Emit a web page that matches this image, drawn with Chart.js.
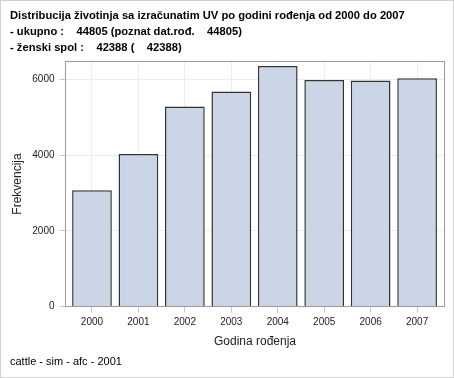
<!DOCTYPE html>
<html>
<head>
<meta charset="utf-8">
<script src="https://cdn.jsdelivr.net/npm/chart.js@4"></script>
<style>
    html, body { margin: 0; padding: 0; background: #fff; }
    #wrap { width: 454px; height: 378px; }
</style>
</head>
<body>
<div id="wrap"><canvas id="uvChart" width="454" height="378"></canvas></div>
<script>
// ================= DATA =================
const years = ['2000', '2001', '2002', '2003', '2004', '2005', '2006', '2007'];
const frequencies = [3070, 4030, 5280, 5680, 6350, 5980, 5970, 6030];
const yTicks = [0, 2000, 4000, 6000];

const titleLines = [
    'Distribucija životinja sa izračunatim UV po godini rođenja od 2000 do 2007',
    '- ukupno :    44805 (poznat dat.rođ.    44805)',
    '- ženski spol :    42388 (    42388)'
];
const footerText = 'cattle - sim - afc - 2001';
const xTitle = 'Godina rođenja';
const yTitle = 'Frekvencija';

// ================= FRAME PLUGIN =================
const framePlugin = {
    id: 'frame',
    afterDraw(chart) {
        const { ctx, chartArea: a } = chart;
        ctx.save();
        ctx.lineWidth = 1;
        ctx.strokeStyle = '#9a9a9a';
        ctx.strokeRect(a.left, a.top, a.right - a.left, a.bottom - a.top);
        ctx.strokeStyle = '#d0d0d0';
        ctx.strokeRect(0.5, 0.5, chart.width - 1, chart.height - 1);
        ctx.restore();
    }
};

// ================= RENDER CHART =================
Chart.defaults.font.family = 'Arial, "Liberation Sans", sans-serif';

const canvas = document.getElementById('uvChart');

new Chart(canvas, {
    type: 'bar',
    data: {
        datasets: [{
            data: frequencies.map((v, i) => ({ x: i, y: v })),
            backgroundColor: '#cad5e5',
            borderColor: '#333333',
            borderWidth: 1.5,
            categoryPercentage: 1,
            barPercentage: 0.855
        }]
    },
    options: {
        responsive: false,
        animation: false,
        layout: { padding: { left: 10, right: 9.5, top: 0, bottom: 0 } },
        plugins: {
            legend: { display: false },
            tooltip: { enabled: false },
            title: {
                display: true,
                text: titleLines,
                align: 'start',
                color: '#000',
                font: { size: 11.2, weight: 'bold', lineHeight: 16 / 11.2 },
                padding: { top: 7.7, bottom: 5.8 }
            },
            subtitle: {
                display: true,
                text: footerText,
                position: 'bottom',
                align: 'start',
                color: '#000',
                font: { size: 11, lineHeight: 1.2 },
                padding: { top: 6.2, bottom: 9.6 }
            }
        },
        scales: {
            x: {
                type: 'linear',
                min: -0.57,
                max: 7.59,
                bounds: 'data',
                offset: false,
                afterBuildTicks: (scale) => {
                    scale.ticks = years.map((y, i) => ({ value: i }));
                },
                afterFit: (scale) => { scale.height = 42.5; },
                ticks: {
                    color: '#222',
                    font: { size: 10 },
                    padding: 4,
                    maxRotation: 0,
                    callback: (value) => years[value]
                },
                grid: {
                    offset: false,
                    color: '#ececec',
                    tickColor: '#c8c8c8',
                    tickLength: 6
                },
                border: { display: false },
                title: {
                    display: true,
                    text: xTitle,
                    color: '#222',
                    font: { size: 12 },
                    padding: 0
                }
            },
            y: {
                min: 0,
                max: 6470,
                bounds: 'data',
                afterBuildTicks: (scale) => {
                    scale.ticks = yTicks.map(v => ({ value: v }));
                },
                afterFit: (scale) => { scale.width = 55.5; },
                ticks: {
                    color: '#222',
                    font: { size: 10 },
                    padding: 5,
                    callback: (value) => String(value)
                },
                grid: {
                    color: '#ececec',
                    tickColor: '#c8c8c8',
                    tickLength: 6
                },
                border: { display: false },
                title: {
                    display: true,
                    text: yTitle,
                    color: '#222',
                    font: { size: 12 },
                    padding: 0
                }
            }
        }
    },
    plugins: [framePlugin]
});
</script>
</body>
</html>
